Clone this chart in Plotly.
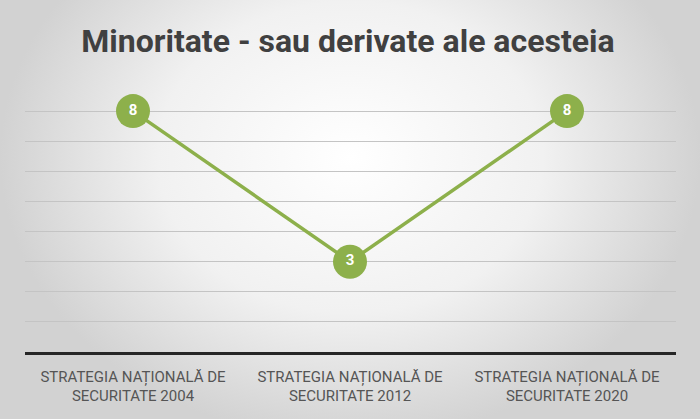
import plotly.graph_objects as go

# data
categories = [
    "STRATEGIA NAȚIONALĂ DE<br>SECURITATE 2004",
    "STRATEGIA NAȚIONALĂ DE<br>SECURITATE 2012",
    "STRATEGIA NAȚIONALĂ DE<br>SECURITATE 2020",
]
values = [8, 3, 8]
title_text = "Minoritate - sau derivate ale acesteia"

W, H = 700, 419
green = "#8db04b"

fig = go.Figure()

# soft radial background (drawn on its own full-page axes, behind the plot)
fig.add_trace(go.Scatter(
    x=[0, 1, 1, 0, 0], y=[-0.05, -0.05, 1.3, 1.3, -0.05],
    xaxis="x", yaxis="y", mode="none", fill="toself",
    fillgradient=dict(type="radial",
                      colorscale=[[0, "#ffffff"], [0.55, "#f1f1f1"], [1, "#d2d2d2"]]),
    hoverinfo="skip", showlegend=False,
))

# the line itself
fig.add_trace(go.Scatter(
    x=categories, y=values, xaxis="x2", yaxis="y2",
    mode="lines+markers+text",
    line=dict(color=green, width=3.5),
    marker=dict(size=34, color=green, line=dict(color=green, width=0)),
    text=[str(v) for v in values], textposition="middle center",
    textfont=dict(family="Roboto", size=15, color="white", weight="bold"),
    cliponaxis=False, hoverinfo="skip", showlegend=False,
))

# plot area in pixels -> paper fractions
x0, x1 = 24.5, 675.5
ytop, ybot = 81, 352

fig.update_layout(
    width=W, height=H,
    margin=dict(l=0, r=0, t=0, b=0),
    paper_bgcolor="#e6e6e6", plot_bgcolor="rgba(0,0,0,0)",
    title=dict(text=title_text, x=0.497, xanchor="center",
               y=1 - 41 / H, yanchor="middle", yref="container",
               font=dict(family="Roboto", size=32, color="#404040", weight="bold")),
    xaxis=dict(domain=[0, 1], range=[0, 1], visible=False, fixedrange=True),
    yaxis=dict(domain=[0, 1], range=[0, 1], visible=False, fixedrange=True),
    xaxis2=dict(domain=[x0 / W, x1 / W], anchor="y2", type="category",
                range=[-0.5, 2.5], showgrid=False,
                showline=True, linecolor="#262626", linewidth=2.5,
                ticks="", tickfont=dict(family="Roboto", size=15, color="#555555"),
                ticklabelstandoff=9),
    yaxis2=dict(domain=[1 - ybot / H, 1 - ytop / H], anchor="x2",
                range=[0, 9], dtick=1, showticklabels=False,
                showgrid=True, gridcolor="#c4c4c4", gridwidth=1,
                zeroline=False, showline=False),
)

# drop the browser's default body margin so the figure sits at the page corner
fig.write_html("out.html", config={"displayModeBar": False},
               post_script="document.body.style.margin='0';")
